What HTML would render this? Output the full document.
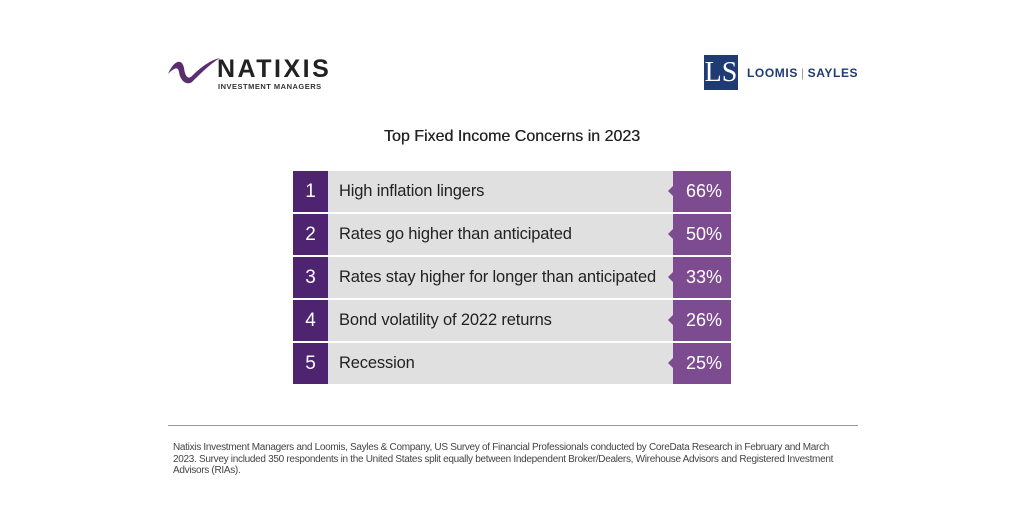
<!DOCTYPE html>
<html><head><style>
body{margin:0;width:1024px;height:512px;background:#fff;position:relative;font-family:"Liberation Sans",sans-serif;overflow:hidden}
.abs{position:absolute}
.row{position:absolute;left:293px;width:438px;height:41px;background:#e0e0e0}
.num{position:absolute;left:0;top:0;width:35px;height:41px;background:#4e2370;color:#fff;font-size:19px;line-height:41px;text-align:center}
.lab{position:absolute;left:46px;top:0;line-height:41px;font-size:16.5px;letter-spacing:-0.15px;color:#222}
.pct{position:absolute;left:380px;top:0;width:58px;height:41px;background:#7d4b8f;color:#fff;font-size:18px;line-height:41px;text-align:right;box-sizing:border-box;padding-right:9px}
.pct:before{content:"";position:absolute;left:-5px;top:15px;border-right:5px solid #7d4b8f;border-top:5px solid transparent;border-bottom:5px solid transparent}
</style></head><body>
<svg class="abs" style="left:166px;top:54px" width="56" height="32"><path d="M2 20 C8 6 16 4 18 14 C19 22 22 26 26 22 C34 14 44 6 54 4 C44 10 34 20 26 28 C20 32 14 26 13 18 C12 12 8 14 2 20Z" fill="#5a2d6e"/></svg>
<div class="abs" style="left:217px;top:55px;font-size:25px;font-weight:bold;color:#222;letter-spacing:2.5px">NATIXIS</div>
<div class="abs" style="left:218px;top:82px;font-size:7.5px;font-weight:bold;color:#333;letter-spacing:.5px">INVESTMENT MANAGERS</div>
<div class="abs" style="left:704px;top:55px;width:34px;height:35px;background:#1f3b73;color:#fff;font-family:'Liberation Serif',serif;font-size:28px;line-height:35px;text-align:center">LS</div>
<div class="abs" style="left:747px;top:66px;font-size:12px;font-weight:bold;color:#1f3b73;letter-spacing:0.6px">LOOMIS<span style="color:#999;font-weight:normal;margin:0 3px">|</span>SAYLES</div>
<div class="abs" style="left:0;width:1024px;top:128px;text-align:center;font-size:16px;color:#222;text-shadow:0.3px 0 0 #222">Top Fixed Income Concerns in 2023</div>
<div class="row" style="top:171px"><div class="num">1</div><div class="lab">High inflation lingers</div><div class="pct">66%</div></div>
<div class="row" style="top:214px"><div class="num">2</div><div class="lab">Rates go higher than anticipated</div><div class="pct">50%</div></div>
<div class="row" style="top:257px"><div class="num">3</div><div class="lab">Rates stay higher for longer than anticipated</div><div class="pct">33%</div></div>
<div class="row" style="top:300px"><div class="num">4</div><div class="lab">Bond volatility of 2022 returns</div><div class="pct">26%</div></div>
<div class="row" style="top:343px"><div class="num">5</div><div class="lab">Recession</div><div class="pct">25%</div></div>
<div class="abs" style="left:168px;top:425px;width:690px;height:1px;background:#999"></div>
<div class="abs" style="left:173px;top:442px;white-space:nowrap;font-size:10px;letter-spacing:-0.3px;line-height:11.5px;color:#444">Natixis Investment Managers and Loomis, Sayles &amp; Company, US Survey of Financial Professionals conducted by CoreData Research in February and March<br>2023. Survey included 350 respondents in the United States split equally between Independent Broker/Dealers, Wirehouse Advisors and Registered Investment<br>Advisors (RIAs).</div>
</body></html>
